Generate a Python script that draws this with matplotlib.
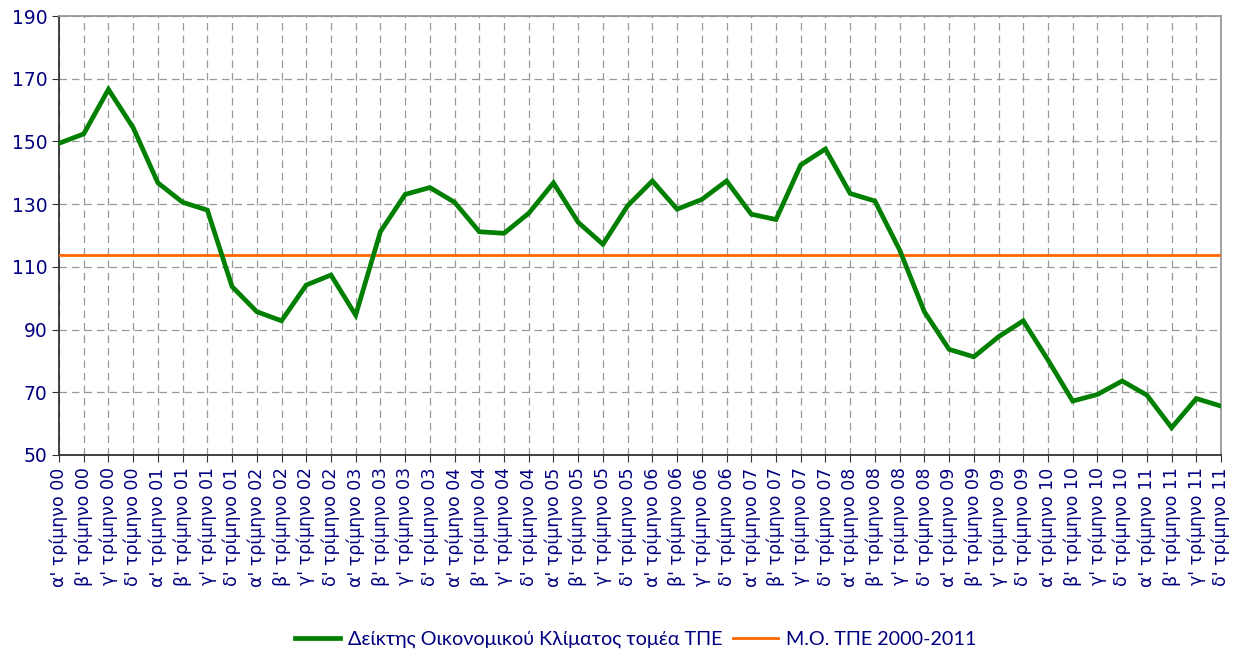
import matplotlib
matplotlib.use("Agg")
import matplotlib.pyplot as plt

# quarterly business-climate index for ICT sector, 2000-2011
quarters = ["α'", "β'", "γ'", "δ'"]
years = ["00", "01", "02", "03", "04", "05", "06", "07", "08", "09", "10", "11"]
labels = [q + " τρίμηνο " + y for y in years for q in quarters]

climate = [149.4, 152.4, 166.6, 154.4, 136.8, 130.6, 128.1, 103.7,
           95.7, 92.8, 104.2, 107.4, 94.6, 121.2, 133.1, 135.3,
           130.6, 121.2, 120.7, 127.1, 136.8, 124.2, 117.2, 129.5,
           137.4, 128.4, 131.5, 137.4, 126.8, 125.1, 142.5, 147.6,
           133.4, 131.0, 115.4, 95.7, 83.7, 81.3, 87.7, 92.8,
           80.3, 67.2, 69.3, 73.6, 69.1, 58.7, 68.0, 65.6]
average = 113.8

navy = "#000080"
plt.rcParams["font.family"] = ["DejaVu Sans"]

fig = plt.figure(figsize=(12.34, 6.54), dpi=100)
ax = fig.add_axes([0.0478, 0.3043, 0.9417, 0.6712])

x = list(range(len(labels)))
ax.plot(x, climate, color="#007F00", lw=3.4, solid_joinstyle="miter",
        label="Δείκτης Οικονομικού Κλίματος τομέα ΤΠΕ", zorder=4)
ax.plot(x, [average] * len(x), color="#FF6600", lw=2.0,
        label="Μ.Ο. ΤΠΕ 2000-2011", zorder=3)

ax.set_xlim(0, len(labels) - 1)
ax.set_ylim(50, 190)
ax.set_yticks(range(50, 191, 20))
ax.set_xticks(x)
ax.set_xticklabels(labels, rotation=90, fontsize=12.5, color=navy)
ax.tick_params(axis="y", labelsize=13.5, labelcolor=navy, length=5, color="#333333")
ax.tick_params(axis="x", length=5, color="#333333", pad=4)

ax.grid(True, color="#999999", linestyle=(0, (6, 4)), lw=0.9)
ax.set_axisbelow(True)

for side in ["left", "bottom"]:
    ax.spines[side].set_color("#333333")
    ax.spines[side].set_linewidth(1.3)
for side in ["top", "right"]:
    ax.spines[side].set_color("#999999")
    ax.spines[side].set_linewidth(1.3)

leg = fig.legend(loc="center", bbox_to_anchor=(0.515, 0.022), ncol=2,
                 frameon=False, handlelength=2.3, columnspacing=0.5,
                 handletextpad=0.4, borderaxespad=0, borderpad=0,
                 prop={"family": ["Lato", "DejaVu Sans"], "size": 14.2})
for t in leg.get_texts():
    t.set_color(navy)

fig.savefig("out.png", dpi=100)
